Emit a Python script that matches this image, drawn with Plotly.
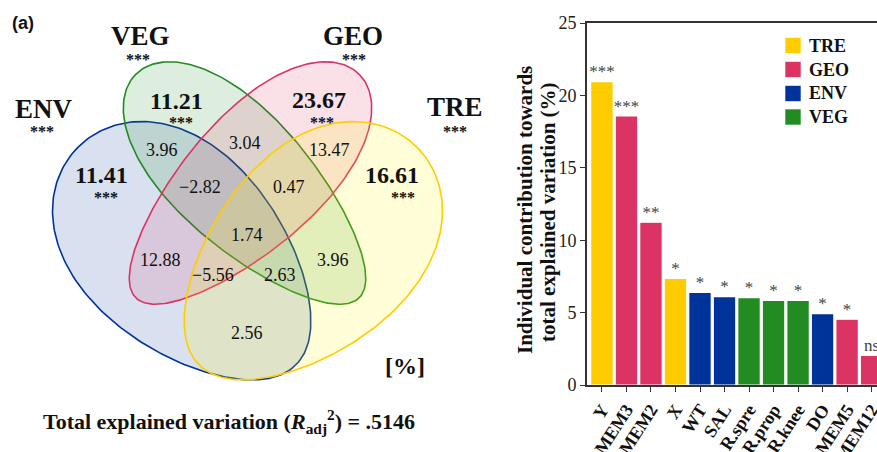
import numpy as np
import plotly.graph_objects as go

# ---------------- data ----------------
set_names = ["ENV", "VEG", "GEO", "TRE"]
set_unique = ["11.41", "11.21", "23.67", "16.61"]
region_labels = ["3.96", "3.04", "13.47", "\u22122.82", "0.47", "12.88",
                 "1.74", "\u22125.56", "2.63", "3.96", "2.56"]
total_r2 = ".5146"

categories = ["Y", "MEM3", "MEM2", "X", "WT", "SAL", "R.spre", "R.prop",
              "R.knee", "DO", "MEM5", "MEM12"]
values = [20.95, 18.58, 11.24, 7.37, 6.40, 6.10, 6.03, 5.85, 5.85, 4.93, 4.54, 2.05]
groups = ["TRE", "GEO", "GEO", "TRE", "ENV", "ENV", "VEG", "VEG", "VEG", "ENV", "GEO", "GEO"]
signif = ["***", "***", "**", "*", "*", "*", "*", "*", "*", "*", "*", "ns"]
legend_order = ["TRE", "GEO", "ENV", "VEG"]
y_title_lines = ["Individual contribution towards", "total explained variation (%)"]

# ---------------- styles ----------------
W, H = 877, 452
SERIF = "Liberation Serif, Times New Roman, serif"
SANS = "Liberation Sans, Arial, sans-serif"
colors = {"TRE": "#FFCC00", "GEO": "#DC3365", "ENV": "#003399", "VEG": "#228B22"}
fills = {"ENV": "rgba(0,51,153,0.15)", "VEG": "rgba(34,139,34,0.15)",
         "GEO": "rgba(220,51,101,0.15)", "TRE": "rgba(255,250,0,0.16)"}

fig = go.Figure()

# ---------------- Venn (panel a) ----------------
def egg(cx, cy, a, b, ang, e, n=240):
    t = np.linspace(0, 2 * np.pi, n)
    u = a * np.cos(t)
    v = b * np.sin(t) * (1 + e * np.cos(t))
    th = np.deg2rad(ang)
    x = cx + u * np.cos(th) - v * np.sin(th)
    y = cy + u * np.sin(th) + v * np.cos(th)
    return x, y

shape_geom = {
    "ENV": (187, 256, 154, 98, 225, 0.17),
    "VEG": (247.5, 186, 158, 66, 225, 0.18),
    "GEO": (247.5, 186, 158, 66, 315, 0.18),
    "TRE": (308, 256, 154, 98, 315, 0.17),
}
for nm in ["ENV", "VEG", "GEO", "TRE"]:
    ex, ey = egg(*shape_geom[nm])
    fig.add_trace(go.Scatter(x=ex, y=ey, mode="lines", fill="toself",
                             fillcolor=fills[nm],
                             line=dict(color=colors[nm], width=1.6),
                             xaxis="x", yaxis="y", showlegend=False,
                             hoverinfo="skip"))

name_pos = {"ENV": (44, 109), "VEG": (140, 36), "GEO": (353, 36), "TRE": (455, 107)}
uniq_pos = {"ENV": (101, 175), "VEG": (176, 101), "GEO": (319, 100), "TRE": (392, 175)}
uniq_star = {"ENV": (106, 197), "VEG": (181, 122), "GEO": (322, 122), "TRE": (403, 197)}
name_star = {"ENV": (42, 131), "VEG": (138, 59), "GEO": (354, 59), "TRE": (455, 131)}
region_pos = [(162, 150), (245, 143), (329, 150), (200, 187), (289, 187), (160, 260),
              (247, 235), (213, 275), (280, 275), (333, 260), (247, 333)]

ann = []
def t(x, y, s, size, bold=False, font=SERIF, ref=("x", "y"), color="#111",
      xanchor="center", angle=0):
    ann.append(dict(x=x, y=y, xref=ref[0], yref=ref[1], text=s, showarrow=False,
                    xanchor=xanchor, yanchor="middle", textangle=angle,
                    font=dict(family=font, size=size, color=color,
                              weight="bold" if bold else "normal")))

for nm, val in zip(set_names, set_unique):
    t(*name_pos[nm], nm, 27, bold=True)
    t(*name_star[nm], "***", 16, bold=True)
    t(*uniq_pos[nm], val, 24, bold=True)
    t(*uniq_star[nm], "***", 16, bold=True)
for (px, py), lab in zip(region_pos, region_labels):
    t(px, py, lab, 18)
t(405, 366, "[%]", 24, bold=True)
t(229, 421, "Total explained variation (<i>R</i><sub>adj</sub><sup>2</sup>) = " + total_r2, 22, bold=True)
t(23, 23, "(a)", 18, bold=True, font=SANS)
t(528, 23, "(b)", 18, bold=True, font=SANS)

# ---------------- bars (panel b) ----------------
for g in legend_order:
    xs = [c for c, gg in zip(categories, groups) if gg == g]
    ys = [v for v, gg in zip(values, groups) if gg == g]
    fig.add_trace(go.Bar(x=xs, y=ys, name=g, marker=dict(color=colors[g],
                         line=dict(color="white", width=1.2)),
                         width=0.92, xaxis="x2", yaxis="y2", showlegend=False))
fig.add_trace(go.Scatter(x=categories, y=values, mode="text", text=signif,
                         textposition="top center", cliponaxis=False,
                         textfont=dict(family=SERIF, size=17, color="#444"),
                         xaxis="x2", yaxis="y2", showlegend=False, hoverinfo="skip"))

# y-axis title (two rotated lines, tight spacing as in the reference)
t(525 / W, (H - 210) / H, y_title_lines[0], 21, bold=True, ref=("paper", "paper"), angle=-90)
t(548 / W, (H - 212) / H, y_title_lines[1], 21, bold=True, ref=("paper", "paper"), angle=-90)

# legend (squares + labels)
shapes = []
leg_y = [45.5, 69.5, 93.5, 117]
for g, yy in zip(legend_order, leg_y):
    shapes.append(dict(type="rect", xref="paper", yref="paper",
                       x0=785 / W, x1=801 / W, y0=(H - yy - 8) / H, y1=(H - yy + 8) / H,
                       fillcolor=colors[g], line=dict(color="rgba(255,255,255,0.6)", width=1)))
    t(807 / W, (H - yy) / H, g, 18, bold=True, ref=("paper", "paper"), xanchor="left")

y0_px, y25_px = 385, 23
fig.update_layout(
    width=W, height=H, margin=dict(l=0, r=0, t=0, b=0, autoexpand=False),
    paper_bgcolor="white", plot_bgcolor="rgba(0,0,0,0)",
    barmode="overlay", annotations=ann, shapes=shapes, showlegend=False,
    xaxis=dict(domain=[0, 500 / W], range=[0, 500], visible=False, fixedrange=True,
               automargin=False),
    yaxis=dict(domain=[0, 1], range=[H, 0], visible=False, fixedrange=True,
               automargin=False),
    xaxis2=dict(domain=[587 / W, 1], range=[-0.61, 11.22], anchor="y2",
                categoryorder="array", categoryarray=categories,
                showline=True, linecolor="#333", linewidth=2, mirror=True,
                ticks="outside", ticklen=5, tickcolor="#333", tickangle=-57,
                tickfont=dict(family=SERIF, size=18, color="#111", weight="bold"),
                showgrid=False, automargin=False),
    yaxis2=dict(domain=[(H - y0_px) / H, (H - y25_px) / H], range=[0, 25],
                anchor="x2", showline=True, linecolor="#333", linewidth=2,
                ticks="outside", ticklen=5, tickcolor="#333", dtick=5,
                tickfont=dict(family=SERIF, size=18, color="#222"),
                showgrid=False, zeroline=False, automargin=False),
)

fig.write_html("out.html", config={"displayModeBar": False},
               post_script="document.body.style.margin='0px';document.body.style.overflow='hidden';")
